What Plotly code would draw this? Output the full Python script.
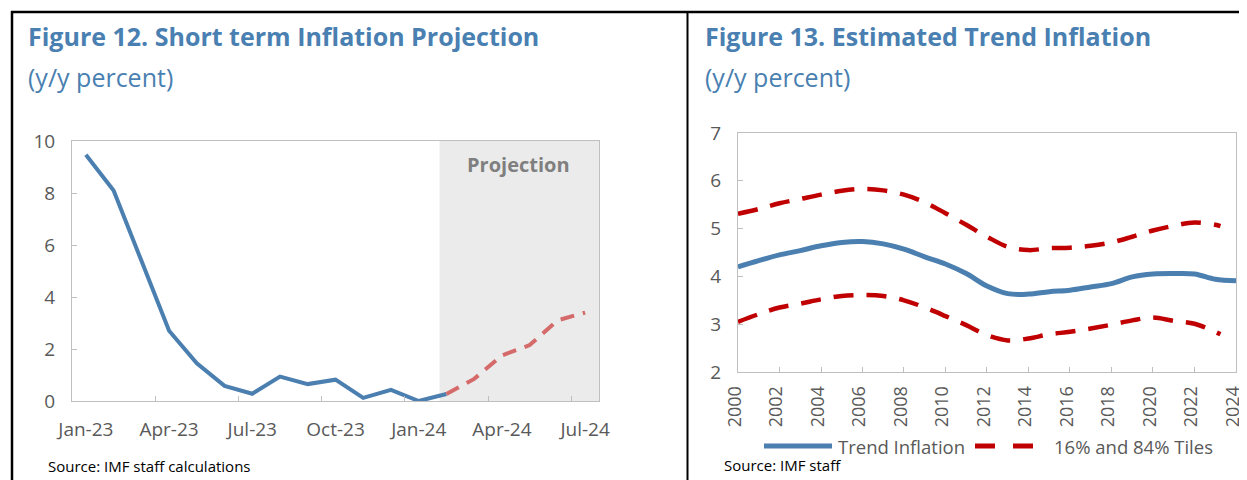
import plotly.graph_objects as go

# page body has an 8px margin, so the figure is sized to fill the rest of the window
OFF = 8
W, H = 1247 - OFF, 480 - OFF

# Figure 12 - monthly y/y inflation
months = ["Jan-23", "Feb-23", "Mar-23", "Apr-23", "May-23", "Jun-23", "Jul-23",
          "Aug-23", "Sep-23", "Oct-23", "Nov-23", "Dec-23", "Jan-24", "Feb-24",
          "Mar-24", "Apr-24", "May-24", "Jun-24", "Jul-24"]
actual = [9.47, 8.1, 5.4, 2.7, 1.45, 0.58, 0.28, 0.94, 0.65, 0.82, 0.12, 0.43, 0.0, 0.27]
projection = [0.27, 0.85, 1.75, 2.15, 3.1, 3.4]  # Feb-24 .. Jul-24

# Figure 13 - trend inflation and bands
trend_years = list(range(2000, 2025))
trend = [4.20, 4.33, 4.45, 4.54, 4.64, 4.71, 4.73, 4.68, 4.57, 4.41, 4.26, 4.06, 3.80,
         3.64, 3.63, 3.68, 3.71, 3.78, 3.85, 3.99, 4.05, 4.06, 4.05, 3.94, 3.91]
band_years = list(range(2000, 2024)) + [2023.25]
upper = [5.31, 5.41, 5.53, 5.62, 5.71, 5.79, 5.83, 5.80, 5.71, 5.55, 5.32, 5.08, 4.83,
         4.62, 4.55, 4.59, 4.60, 4.64, 4.71, 4.83, 4.96, 5.06, 5.13, 5.08, 5.05]
lower = [3.05, 3.21, 3.35, 3.43, 3.52, 3.59, 3.61, 3.59, 3.50, 3.35, 3.17, 2.98, 2.77,
         2.66, 2.70, 2.79, 2.84, 2.91, 2.99, 3.08, 3.14, 3.07, 3.01, 2.84, 2.79]
year_ticks = list(range(2000, 2025, 2))

BLUE = "#4a7fb0"
RED = "#c00000"
PINK = "#d46a6a"
GREY_TXT = "#595959"
FONT = "Open Sans"


# window pixel -> paper fraction
def px(x):
    return (x - OFF) / W


def py(y):
    return 1 - (y - OFF) / H


idx = list(range(len(months)))
proj_idx = idx[len(actual) - 1:]

fig = go.Figure()

fig.add_trace(go.Scatter(x=idx[:len(actual)], y=actual, mode="lines",
                         line=dict(color=BLUE, width=4), xaxis="x", yaxis="y"))
fig.add_trace(go.Scatter(x=proj_idx, y=projection, mode="lines",
                         line=dict(color=PINK, width=4, dash="14px,9px"), xaxis="x", yaxis="y"))

fig.add_trace(go.Scatter(x=trend_years, y=trend, mode="lines", line_shape="spline",
                         line=dict(color=BLUE, width=5), xaxis="x2", yaxis="y2"))
fig.add_trace(go.Scatter(x=band_years, y=upper, mode="lines", line_shape="spline",
                         line=dict(color=RED, width=4.5, dash="20px,13px"), xaxis="x2", yaxis="y2"))
fig.add_trace(go.Scatter(x=band_years, y=lower, mode="lines", line_shape="spline",
                         line=dict(color=RED, width=4.5, dash="20px,13px"), xaxis="x2", yaxis="y2"))

tick_font = dict(family=FONT, size=19, color=GREY_TXT)
axis_common = dict(showline=True, linecolor="#bfbfbf", linewidth=1, mirror=True,
                   showgrid=False, zeroline=False, ticks="inside", ticklen=5,
                   tickcolor="#bfbfbf", tickfont=tick_font, automargin=False,
                   ticklabeloverflow="allow")

major = idx[::3]
fig.update_layout(
    template="none",
    width=W, height=H, autosize=False,
    margin=dict(l=0, r=0, t=0, b=0, pad=0),
    paper_bgcolor="white", plot_bgcolor="white",
    showlegend=False,
    xaxis=dict(domain=[px(72), px(599)], range=[-0.5, 18.5],
               tickvals=major, ticktext=[months[i] for i in major], ticklabelstandoff=11,
               minor=dict(tickvals=[i - 0.5 for i in major[1:]], ticks="inside",
                          ticklen=5, tickcolor="#bfbfbf"),
               **{**axis_common, "ticks": ""}),
    yaxis=dict(domain=[py(401), py(141)], range=[0, 10], dtick=2, ticklabelstandoff=12,
               **axis_common),
    xaxis2=dict(domain=[px(738), px(1236)], range=[2000, 2024.001], tickvals=year_ticks,
                tickangle=-90, anchor="y2", ticklabelstandoff=6, ticklabelshift=-3,
                **{**axis_common, "tickfont": dict(family=FONT, size=18, color=GREY_TXT)}),
    yaxis2=dict(domain=[py(372), py(133)], range=[2, 7], dtick=1, anchor="x2",
                ticklabelstandoff=12, **axis_common),
)

shapes = [
    # projection shading
    dict(type="rect", xref="x", yref="y", x0=12.75, x1=18.5, y0=0, y1=10,
         fillcolor="#ebebeb", line=dict(width=0), layer="below"),
    # frame lines
    dict(type="line", xref="paper", yref="paper", x0=px(11), x1=1, y0=py(12), y1=py(12),
         line=dict(color="black", width=2.5)),
    dict(type="line", xref="paper", yref="paper", x0=px(12), x1=px(12), y0=py(11), y1=0,
         line=dict(color="black", width=2.5)),
    dict(type="line", xref="paper", yref="paper", x0=px(687.5), x1=px(687.5), y0=py(11), y1=0,
         line=dict(color="black", width=2)),
    # legend samples for figure 13
    dict(type="line", xref="paper", yref="paper", x0=px(764), x1=px(832), y0=py(446), y1=py(446),
         line=dict(color=BLUE, width=5)),
    dict(type="line", xref="paper", yref="paper", x0=px(975), x1=px(1033), y0=py(446), y1=py(446),
         line=dict(color=RED, width=5, dash="20px,18px")),
]
fig.update_layout(shapes=shapes)

TITLE_BLUE = "#4a7fb1"
ann = [
    dict(text="<b>Figure 12. Short term Inflation Projection</b>", x=px(26), y=py(36),
         font=dict(family=FONT, size=25, color=TITLE_BLUE)),
    dict(text="(y/y percent)", x=px(26), y=py(77),
         font=dict(family=FONT, size=25, color=TITLE_BLUE)),
    dict(text="<b>Figure 13. Estimated Trend Inflation</b>", x=px(703), y=py(36),
         font=dict(family=FONT, size=25, color=TITLE_BLUE)),
    dict(text="(y/y percent)", x=px(703), y=py(77),
         font=dict(family=FONT, size=25, color=TITLE_BLUE)),
    dict(text="Source: IMF staff calculations", x=px(46), y=py(466),
         font=dict(family=FONT, size=15, color="black")),
    dict(text="Source: IMF staff", x=px(722), y=py(465),
         font=dict(family=FONT, size=15, color="black")),
    dict(text="Trend Inflation", x=px(836), y=py(446),
         font=dict(family=FONT, size=18.5, color=GREY_TXT)),
    dict(text="16% and 84% Tiles", x=px(1052), y=py(446),
         font=dict(family=FONT, size=18.5, color=GREY_TXT)),
]
for a in ann:
    fig.add_annotation(xref="paper", yref="paper", xanchor="left", yanchor="middle",
                       showarrow=False, **a)

fig.add_annotation(xref="x", yref="y", x=15.6, y=9.1, text="<b>Projection</b>",
                   showarrow=False, font=dict(family=FONT, size=20, color="#7f7f7f"))

fig.write_html("out.html")
